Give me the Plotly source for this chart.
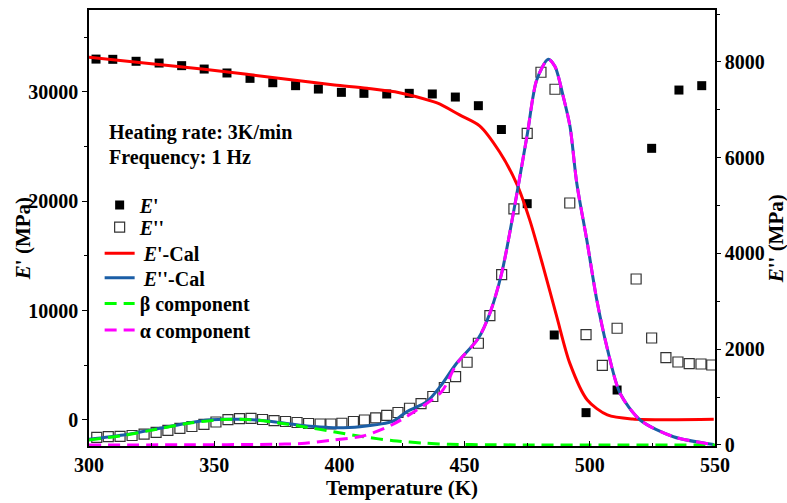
import plotly.graph_objects as go

# ---- measured storage modulus E' (MPa) ----
ep_T = [302.8, 309.5, 318.8, 328.0, 337.0, 346.0, 355.1, 364.3, 373.4, 382.5,
        391.6, 400.8, 409.8, 418.9, 427.9, 437.1, 446.3, 455.5, 464.7, 475.0,
        485.8, 498.5, 510.9, 524.7, 535.6, 544.7]
ep_val = [33000, 32980, 32800, 32640, 32400, 32090, 31730, 31240, 30840, 30570,
          30260, 29960, 29870, 29810, 29870, 29810, 29530, 28740, 26560, 19780,
          7770, 670, 2740, 24840, 30170, 30570]

# ---- measured loss modulus E'' (MPa) ----
epp_T = [303.1, 307.7, 312.4, 317.2, 322.0, 326.8, 331.5, 336.3, 341.1, 345.9,
         350.7, 355.5, 360.1, 364.7, 369.3, 373.9, 378.5, 383.1, 387.7, 392.3,
         396.6, 401.0, 405.6, 410.0, 414.5, 418.9, 423.4, 428.0, 432.6, 437.3,
         441.9, 446.4, 451.0, 455.5, 460.1, 464.8, 469.7, 475.0, 480.5, 486.1,
         492.0, 498.5, 505.0, 510.9, 518.5, 524.7, 530.4, 535.2, 539.7, 544.4,
         548.7]
epp_val = [161, 173, 182, 198, 229, 265, 307, 348, 386, 432,
           480, 529, 549, 558, 533, 507, 491, 470, 449, 439,
           439, 454, 491, 522, 568, 617, 679, 767, 863, 1013,
           1201, 1427, 1728, 2125, 2701, 3558, 4930, 6507, 7786, 7431,
           5055, 2304, 1665, 2438, 3467, 2235, 1824, 1734, 1699, 1692,
           1671]

# ---- calculated E' ----
cal_ep_T = [300, 346, 384, 398, 411, 424, 437.5, 440.2, 448, 456, 464, 471,
            476, 481.4, 486.8, 492, 499, 507, 517, 549.5]
cal_ep_val = [33160, 32070, 31020, 30630, 30330, 29930, 29110, 28880, 27900,
              26900, 24500, 21500, 18300, 14000, 9450, 5200, 1830, 460, 90, 60]

# ---- calculated E'' ----
cal_epp_T = [300, 313.7, 327, 340.3, 347.6, 353.6, 360.3, 367, 373.6, 381.6,
             387, 394.9, 398.9, 408.2, 421.5, 426.9, 434.9, 440.2, 446.8, 455.5,
             460.1, 464.8, 469.7, 475, 478.8, 483.4, 486.1, 489.4, 492.1, 494.8,
             498.8, 502.8, 506.8, 512.1, 520.1, 533.4, 549.5]
cal_epp_val = [120, 209, 334, 465, 522, 537, 537, 522, 487, 432,
               397, 370, 361, 383, 500, 696, 904, 1218, 1707, 2229,
               2752, 3587, 4909, 6480, 7625, 8058, 7904, 7277, 6650, 5467,
               4282, 3029, 2054, 1080, 522, 173, 10]

# ---- beta relaxation component ----
beta_T = [300, 313.7, 327, 340.3, 353.6, 360.3, 367, 372.3, 385.6, 397.6,
          409.5, 421.5, 434.9, 444.2, 460, 480, 500, 550]
beta_val = [105, 200, 330, 460, 530, 537, 520, 487, 382, 278,
            173, 90, 36, 15, 5, 0, 0, 0]

# ---- alpha relaxation component ----
alpha_T = [300, 340, 373.6, 386.3, 397.6, 409.5, 420.9, 430.9, 440.8, 446.8,
           455.5, 460.1, 464.8, 469.7, 475, 478.8, 483.4, 486.1, 489.4, 492.1,
           494.8, 498.8, 502.8, 506.8, 512.1, 520.1, 533.4, 549.5]
alpha_val = [0, 5, 15, 36, 104, 188, 418, 731, 1113, 1690,
             2229, 2752, 3587, 4909, 6480, 7625, 8058, 7904, 7277, 6650,
             5467, 4282, 3029, 2054, 1080, 522, 173, 10]

FONT = "Liberation Serif"
RED, BLUE, GREEN, MAGENTA = "#ff0000", "#1b5ea6", "#00ff00", "#ff00ff"
LEG_FONT = dict(family=FONT, size=20, color="black", weight="bold")
THIN = "\u2009"

fig = go.Figure()

fig.add_trace(go.Scatter(
    x=ep_T, y=ep_val, mode="markers", name="<i>E</i>'", legend="legend",
    marker=dict(symbol="square", size=9, color="black"),
    yaxis="y"))
fig.add_trace(go.Scatter(
    x=epp_T, y=epp_val, mode="markers", name="<i>E</i>''", legend="legend2",
    marker=dict(symbol="square-open", size=10, color="#333333",
                line=dict(width=1.2)),
    yaxis="y2"))
fig.add_trace(go.Scatter(
    x=cal_ep_T, y=cal_ep_val, mode="lines", name=THIN + "<i>E</i>'-Cal",
    legend="legend3",
    line=dict(color=RED, width=3, shape="spline", smoothing=0.8),
    yaxis="y"))
fig.add_trace(go.Scatter(
    x=cal_epp_T, y=cal_epp_val, mode="lines", name=THIN + "<i>E</i>''-Cal",
    legend="legend4",
    line=dict(color=BLUE, width=3, shape="spline", smoothing=0.8),
    yaxis="y2"))
fig.add_trace(go.Scatter(
    x=beta_T, y=beta_val, mode="lines", name="β component", legend="legend5",
    line=dict(color=GREEN, width=3, dash="12px,7px", shape="spline",
              smoothing=0.8),
    yaxis="y2"))
fig.add_trace(go.Scatter(
    x=alpha_T, y=alpha_val, mode="lines", name="α component",
    legend="legend6",
    line=dict(color=MAGENTA, width=3, dash="12px,7px", shape="spline",
              smoothing=0.8),
    yaxis="y2"))

# one legend box per row, so rows sit at the intended spacing
leg_rows = [0.553, 0.502, 0.442, 0.386, 0.327, 0.266]
legends = {}
for i, yy in enumerate(leg_rows):
    key = "legend" if i == 0 else f"legend{i + 1}"
    legends[key] = dict(
        x=0.017, y=yy, xanchor="left", yanchor="middle",
        bgcolor="rgba(0,0,0,0)", borderwidth=0, font=LEG_FONT,
        itemwidth=30)

tick_font = dict(family=FONT, size=20, color="black", weight="bold")
title_font = dict(family=FONT, size=21, color="black", weight="bold")
note_font = dict(family=FONT, size=20, color="black", weight="bold")

fig.update_layout(
    width=787, height=503,
    margin=dict(l=89, r=72, t=10, b=57, autoexpand=False),
    paper_bgcolor="white", plot_bgcolor="white",
    font=dict(family=FONT, color="black"),
    showlegend=True,
    **legends,
    xaxis=dict(
        range=[300, 550], dtick=50, tick0=300, tickformat="d",
        automargin=False,
        showgrid=False, zeroline=False,
        showline=True, linecolor="black", linewidth=1.5, mirror=True,
        ticks="inside", ticklen=5, tickwidth=1.2, tickcolor="black",
        minor=dict(dtick=25, ticks="inside", ticklen=3, tickwidth=1,
                   tickcolor="black"),
        tickfont=tick_font,
        title=dict(text="Temperature (K)", font=title_font, standoff=2),
    ),
    yaxis=dict(
        range=[-2380, 37490], dtick=10000, tick0=0, tickformat="d",
        automargin=False,
        showgrid=False, zeroline=False,
        showline=True, linecolor="black", linewidth=1.5,
        ticks="outside", ticklen=5, tickwidth=1.2, tickcolor="black",
        minor=dict(dtick=5000, ticks="outside", ticklen=3, tickwidth=1,
                   tickcolor="black"),
        tickfont=tick_font,
    ),
    yaxis2=dict(
        range=[-21, 9086], dtick=2000, tick0=0, tickformat="d",
        automargin=False,
        overlaying="y", side="right", anchor="x",
        showgrid=False, zeroline=False,
        showline=True, linecolor="black", linewidth=1.5,
        ticks="outside", ticklen=4, tickwidth=1.2, tickcolor="black",
        minor=dict(dtick=1000, ticks="outside", ticklen=3, tickwidth=1,
                   tickcolor="black"),
        tickfont=tick_font,
    ),
    annotations=[
        dict(text="<i>E</i>' (MPa)", x=-0.105, y=0.475, textangle=-90,
             xref="paper", yref="paper", xanchor="center", yanchor="middle",
             showarrow=False, font=title_font, borderpad=0),
        dict(text="<i>E</i>'' (MPa)", x=1.0965, y=0.475, textangle=-90,
             xref="paper", yref="paper", xanchor="center", yanchor="middle",
             showarrow=False, font=title_font, borderpad=0),
        dict(text="Heating rate: 3K/min", x=0.028, y=0.72,
             xref="paper", yref="paper", xanchor="left", yanchor="middle",
             showarrow=False, font=note_font),
        dict(text="Frequency: 1 Hz", x=0.028, y=0.661,
             xref="paper", yref="paper", xanchor="left", yanchor="middle",
             showarrow=False, font=note_font),
    ],
)

fig.write_html("out.html")
